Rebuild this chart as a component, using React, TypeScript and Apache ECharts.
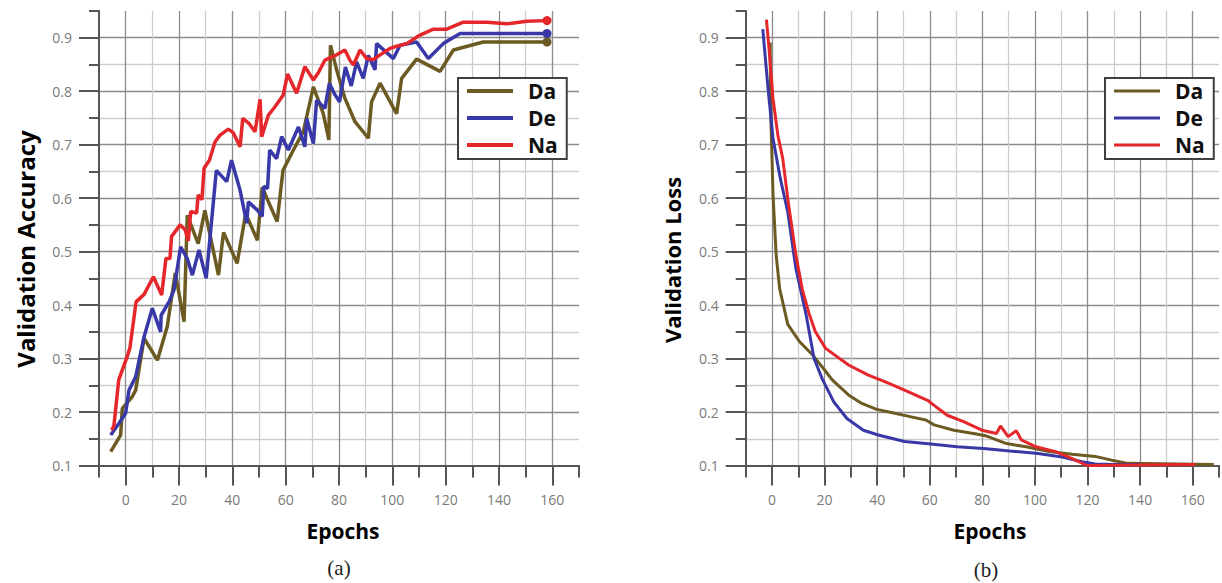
import React, { useEffect, useRef } from 'react';
import * as echarts from 'echarts';

const seriesNames = ['Da', 'De', 'Na'];
const seriesColors = ['#6b5b22', '#3838a8', '#e5262b'];
const xTickLabels = [0, 20, 40, 60, 80, 100, 120, 140, 160];
const yTickLabels = [0.1, 0.2, 0.3, 0.4, 0.5, 0.6, 0.7, 0.8, 0.9];

// (a) Validation accuracy: [epoch, value]
const accDa: [number, number][] = [
  [-5.6, 0.126], [-1.9, 0.157], [-1.25, 0.207], [2.5, 0.229], [3.75, 0.241], [6.9, 0.338], [11.9, 0.297],
  [15.6, 0.36], [18.6, 0.46], [21.9, 0.369], [23.1, 0.568], [27.2, 0.515], [29.7, 0.577], [34.8, 0.456],
  [36.7, 0.536], [41.8, 0.478], [45, 0.571], [49.4, 0.521], [51.2, 0.62], [56.8, 0.556], [59, 0.652],
  [62.9, 0.69], [66.6, 0.724], [70.4, 0.808], [74.1, 0.758], [76.2, 0.709], [76.8, 0.886], [79.1, 0.84],
  [82.2, 0.787], [86, 0.743], [91, 0.712], [92.2, 0.78], [95.4, 0.815], [101.6, 0.758], [103.5, 0.824],
  [109.1, 0.86], [117.9, 0.837], [122.9, 0.877], [134.1, 0.892], [158, 0.892],
];
const accDe: [number, number][] = [
  [-5.6, 0.157], [-2.5, 0.179], [0, 0.198], [1.25, 0.241], [3.75, 0.266], [6.9, 0.341], [10, 0.394],
  [13.1, 0.35], [13.3, 0.381], [16.25, 0.406], [18.1, 0.428], [20.6, 0.509], [23.1, 0.487], [25, 0.456],
  [27.5, 0.503], [30.2, 0.45], [34, 0.652], [37.9, 0.631], [39.7, 0.671], [42.9, 0.615], [45.4, 0.553],
  [46, 0.593], [49.3, 0.578], [51.2, 0.566], [51.8, 0.622], [53.2, 0.618], [54, 0.69], [56.6, 0.674],
  [58.5, 0.715], [61, 0.69], [64.8, 0.733], [67.2, 0.696], [67.9, 0.749], [70.4, 0.702], [71.6, 0.783],
  [74.7, 0.768], [76.4, 0.815], [78.3, 0.795], [80.2, 0.78], [82.4, 0.845], [84.6, 0.81], [86.6, 0.855],
  [89.1, 0.824], [91, 0.867], [93.5, 0.84], [94.1, 0.889], [100.4, 0.861], [102.9, 0.886], [109.1, 0.892],
  [113.5, 0.861], [119.1, 0.889], [125.4, 0.908], [158, 0.908],
];
const accNa: [number, number][] = [
  [-5.2, 0.166], [-4.4, 0.175], [-2.6, 0.26], [0.8, 0.307], [1.6, 0.32], [3.9, 0.406], [6.9, 0.42],
  [10.4, 0.453], [13.5, 0.419], [15.1, 0.487], [16.6, 0.487], [17.2, 0.528], [20.4, 0.55], [22.3, 0.541],
  [23.5, 0.52], [24.4, 0.575], [26.6, 0.572], [27.2, 0.606], [28.6, 0.597], [29.4, 0.656], [31.4, 0.671],
  [33.5, 0.705], [35.4, 0.718], [38.5, 0.729], [40.4, 0.722], [42.9, 0.696], [43.9, 0.749], [46.2, 0.74],
  [48.5, 0.724], [50.4, 0.785], [51, 0.715], [53.5, 0.755], [56, 0.771], [59.1, 0.793], [60.7, 0.832],
  [64.1, 0.796], [67.2, 0.846], [70.4, 0.821], [72.3, 0.835], [74.7, 0.858], [79.1, 0.868], [82.2, 0.877],
  [84.1, 0.858], [85.4, 0.849], [87.9, 0.877], [90.4, 0.861], [92.9, 0.859], [95.4, 0.868], [99.1, 0.88],
  [101.6, 0.884], [105.4, 0.889], [110.4, 0.905], [115.4, 0.916], [120.4, 0.916], [126.6, 0.929],
  [135.4, 0.929], [142.9, 0.926], [150.4, 0.931], [158, 0.932],
];

// (b) Validation loss: [epoch, value]
const lossDa: [number, number][] = [
  [-0.7, 0.891], [-0.5, 0.761], [0.4, 0.605], [1.6, 0.493], [2.9, 0.431], [6, 0.364], [10.4, 0.332],
  [15.4, 0.307], [19.8, 0.28], [22.9, 0.26], [29.1, 0.232], [34.15, 0.216], [39.8, 0.205], [45.4, 0.199],
  [52.9, 0.191], [58.5, 0.185], [61.65, 0.176], [69.15, 0.166], [76.65, 0.16], [81.65, 0.155],
  [89.15, 0.141], [96.65, 0.135], [105.4, 0.126], [114.15, 0.121], [122.9, 0.117], [129.15, 0.11],
  [135.4, 0.104], [168, 0.102],
];
const lossDe: [number, number][] = [
  [-3.5, 0.916], [-1.5, 0.805], [0.4, 0.711], [3.2, 0.636], [6, 0.574], [9.1, 0.468], [12.9, 0.384],
  [16, 0.3], [19.1, 0.262], [23.5, 0.219], [28.5, 0.188], [34.75, 0.166], [40.4, 0.157], [50.4, 0.145],
  [60.4, 0.14], [70.4, 0.135], [80.4, 0.132], [90.4, 0.127], [100.4, 0.123], [110.4, 0.116],
  [117.9, 0.107], [122.9, 0.103], [129, 0.102], [140, 0.102],
];
const lossNa: [number, number][] = [
  [-2.1, 0.934], [-0.9, 0.866], [0.4, 0.786], [2.25, 0.717], [4.1, 0.674], [6, 0.599], [9.1, 0.493],
  [11.5, 0.43], [14.1, 0.384], [16.5, 0.35], [20.4, 0.319], [29.1, 0.288], [36.65, 0.269], [42.9, 0.257],
  [50.4, 0.241], [59.15, 0.222], [62.3, 0.21], [66.65, 0.194], [72.9, 0.182], [79.8, 0.166], [85.4, 0.16],
  [86.9, 0.174], [89.8, 0.154], [92.9, 0.165], [94.8, 0.148], [100.4, 0.135], [107.9, 0.126],
  [114.15, 0.113], [119.8, 0.1], [161, 0.102],
];

const FONT = 'Open Sans';
const AXIS_COLOR = '#555555';
const GRID_TOP = 11;
const GRID_H = 454.5;
const GRID_W = 480;

function xAxes(gridIndex: number) {
  return [
    {
      type: 'value', gridIndex, min: -10, max: 170, interval: 10, position: 'bottom',
      axisLine: { show: true, onZero: false, lineStyle: { color: AXIS_COLOR, width: 2 } },
      axisTick: { show: true, length: 12, lineStyle: { color: AXIS_COLOR, width: 2 } },
      axisLabel: {
        show: true, margin: 27, color: '#7a7a7a', fontFamily: FONT, fontSize: 14,
        formatter: (v: number) => (v >= 0 && v % 20 === 0 ? String(v) : ''),
      },
      splitLine: {
        show: true, showMinLine: false, showMaxLine: false,
        lineStyle: { color: ['#8c8c8c', '#cdcdcd'], width: 1.3 },
      },
    },
    {
      type: 'value', gridIndex, min: -10, max: 170, interval: 10, position: 'bottom',
      axisLine: { show: false, onZero: false },
      axisTick: { show: true, length: 20, customValues: xTickLabels, lineStyle: { color: AXIS_COLOR, width: 2 } },
      axisLabel: { show: false },
      splitLine: { show: false },
    },
  ];
}

function yAxes(gridIndex: number) {
  return [
    {
      type: 'value', gridIndex, min: 0.1, max: 0.95, interval: 0.05, position: 'left',
      axisLine: { show: true, onZero: false, lineStyle: { color: AXIS_COLOR, width: 2 } },
      axisTick: { show: true, length: 10, lineStyle: { color: AXIS_COLOR, width: 2 } },
      axisLabel: {
        show: true, margin: 27, color: '#7a7a7a', fontFamily: FONT, fontSize: 14,
        formatter: (v: number) => {
          const r = Math.round(v * 100);
          return r % 10 === 0 ? (r / 100).toFixed(1) : '';
        },
      },
      splitLine: {
        show: true, showMinLine: false, showMaxLine: false,
        lineStyle: { color: ['#cdcdcd', '#8c8c8c'], width: 1.3 },
      },
    },
    {
      type: 'value', gridIndex, min: 0.1, max: 0.95, interval: 0.05, position: 'left',
      axisLine: { show: false, onZero: false },
      axisTick: { show: true, length: 20, customValues: yTickLabels, lineStyle: { color: AXIS_COLOR, width: 2 } },
      axisLabel: { show: false },
      splitLine: { show: false },
    },
  ];
}

function legend(left: number, iconH: number) {
  return {
    show: true, orient: 'vertical', left, top: 78, data: seriesNames,
    icon: 'rect', itemWidth: 46, itemHeight: iconH, itemGap: 5,
    padding: [2, 9, 3, 9], borderColor: '#404040', borderWidth: 2, backgroundColor: '#ffffff',
    itemStyle: { borderWidth: 0 },
    textStyle: { fontFamily: FONT, fontWeight: 'bold', fontSize: 21, color: '#111111', padding: [0, 0, 0, 10], lineHeight: 22 },
  };
}

export default function App() {
  const ref = useRef<HTMLDivElement>(null);
  useEffect(() => {
    if (!ref.current) return;
    const chart = echarts.init(ref.current, undefined, { renderer: 'svg' });
    const accData = [accDa, accDe, accNa];
    const lossData = [lossDa, lossDe, lossNa];
    const series: any[] = [];
    accData.forEach((d, i) => {
      series.push({
        type: 'line', name: seriesNames[i], xAxisIndex: 0, yAxisIndex: 0, data: d,
        color: seriesColors[i], lineStyle: { width: 3.5, color: seriesColors[i] },
        itemStyle: { color: seriesColors[i], borderWidth: 0 },
        symbol: 'circle', showSymbol: true,
        symbolSize: (_v: any, p: any) => (p.dataIndex === d.length - 1 ? 9 : 0),
        z: 3 + i,
      });
    });
    lossData.forEach((d, i) => {
      series.push({
        type: 'line', name: seriesNames[i], xAxisIndex: 2, yAxisIndex: 2, data: d,
        color: seriesColors[i], lineStyle: { width: 3, color: seriesColors[i] },
        itemStyle: { color: seriesColors[i], borderWidth: 0 },
        symbol: 'none', z: 3 + i,
      });
    });
    const txt = (text: string, x: number, y: number, size: number, opts: any = {}) => ({
      type: 'text', x, y, rotation: opts.rotation || 0, z: 10,
      style: {
        text, fill: opts.fill || '#000000', fontFamily: opts.family || FONT, fontSize: size,
        fontWeight: opts.weight || 'bold', align: 'center', verticalAlign: 'middle',
      },
    });
    chart.setOption({
      animation: false,
      backgroundColor: '#ffffff',
      grid: [
        { left: 99, top: GRID_TOP, width: GRID_W, height: GRID_H, containLabel: false },
        { left: 745.7, top: GRID_TOP, width: GRID_W, height: GRID_H, containLabel: false },
      ],
      xAxis: [...xAxes(0), ...xAxes(1)],
      yAxis: [...yAxes(0), ...yAxes(1)],
      legend: [legend(458, 4), legend(1105, 3)],
      tooltip: { show: false },
      series,
      graphic: [
        txt('Validation Accuracy', 25, 249, 24, { rotation: Math.PI / 2 }),
        txt('Validation Loss', 672, 260, 22, { rotation: Math.PI / 2 }),
        txt('Epochs', 343, 531, 21),
        txt('Epochs', 990, 531, 21),
        txt('(a)', 339, 568, 21, { family: 'Liberation Serif', weight: 'normal', fill: '#222222' }),
        txt('(b)', 986, 570, 21, { family: 'Liberation Serif', weight: 'normal', fill: '#222222' }),
      ],
    });
    return () => chart.dispose();
  }, []);
  return <div ref={ref} style={{ position: 'absolute', left: 0, top: 0, width: 1222, height: 583 }} />;
}
